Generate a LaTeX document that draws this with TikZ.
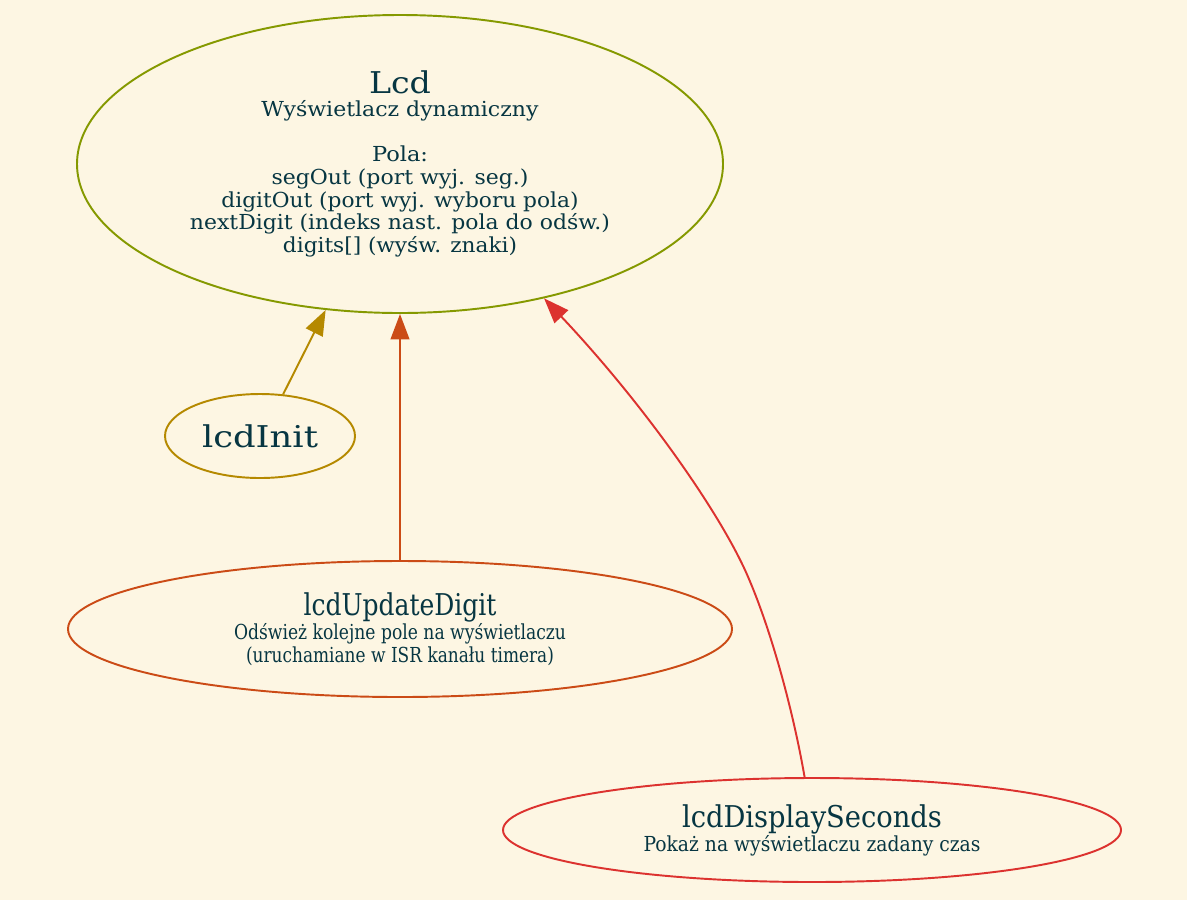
\documentclass[tikz,border=0pt]{standalone}
\usepackage{fontspec}
\setmainfont{DejaVu Serif}
\usetikzlibrary{shapes.geometric,arrows.meta}
\definecolor{bg}{HTML}{FDF6E3}
\definecolor{txt}{HTML}{073642}
\definecolor{colLcd}{HTML}{859900}
\definecolor{colInit}{HTML}{B58900}
\definecolor{colUpd}{HTML}{CB4B16}
\definecolor{colDisp}{HTML}{DC322F}
\newlength\pxu
\setlength\pxu{0.75pt}
\newcommand{\wl}[2]{\resizebox{#1\pxu}{\height}{#2}}
\newcommand{\bigtxt}[2]{{\fontsize{22.5}{17}\selectfont\wl{#1}{#2}}}
\tikzset{
  elnode/.style={ellipse, draw, line width=1.45pt, inner sep=0pt, text=txt, align=center,
    font=\fontsize{15.5}{17}\selectfont},
  conn/.style={line width=1.45pt, -{Triangle[length=19pt,width=14pt]}},
}
\begin{document}
\begin{tikzpicture}[x=0.75pt,y=-0.75pt]
\fill[bg] (0,0) rectangle (1187,900);
\useasboundingbox (0,0) rectangle (1187,900);
\node[elnode, draw=colLcd, minimum width=646*0.75pt, minimum height=298*0.75pt] (lcd) at (400,164)
  {\bigtxt{62}{Lcd}\\ \wl{277}{Wyświetlacz dynamiczny}\\[17pt] \wl{56}{Pola:}\\
   \wl{257}{segOut (port wyj. seg.)}\\ \wl{357}{digitOut (port wyj. wyboru pola)}\\
   \wl{420}{nextDigit (indeks nast. pola do odśw.)}\\ \wl{234}{digits[] (wyśw. znaki)}};
\node[elnode, draw=colInit, minimum width=190*0.75pt, minimum height=84*0.75pt] (init) at (260,436)
  {\bigtxt{116}{lcdInit}};
\node[elnode, draw=colUpd, minimum width=664*0.75pt, minimum height=136*0.75pt] (upd) at (400,629)
  {\bigtxt{193}{lcdUpdateDigit}\\ \wl{332}{Odśwież kolejne pole na wyświetlaczu}\\ \wl{308}{(uruchamiane w ISR kanału timera)}};
\node[elnode, draw=colDisp, minimum width=618*0.75pt, minimum height=104*0.75pt] (disp) at (812,830)
  {\bigtxt{260}{lcdDisplaySeconds}\\ \wl{337}{Pokaż na wyświetlaczu zadany czas}};
\draw[conn, draw=colInit] (init.61) -- (lcd.-117);
\draw[conn, draw=colUpd] (upd.north) -- (lcd.south);
\coordinate (mid) at (745,570);
\draw[conn, draw=colDisp] (disp.98) .. controls (793,710) and (770,625) .. (mid)
  .. controls (715,505) and (640,400) .. (lcd.-43.5);
\end{tikzpicture}
\end{document}
